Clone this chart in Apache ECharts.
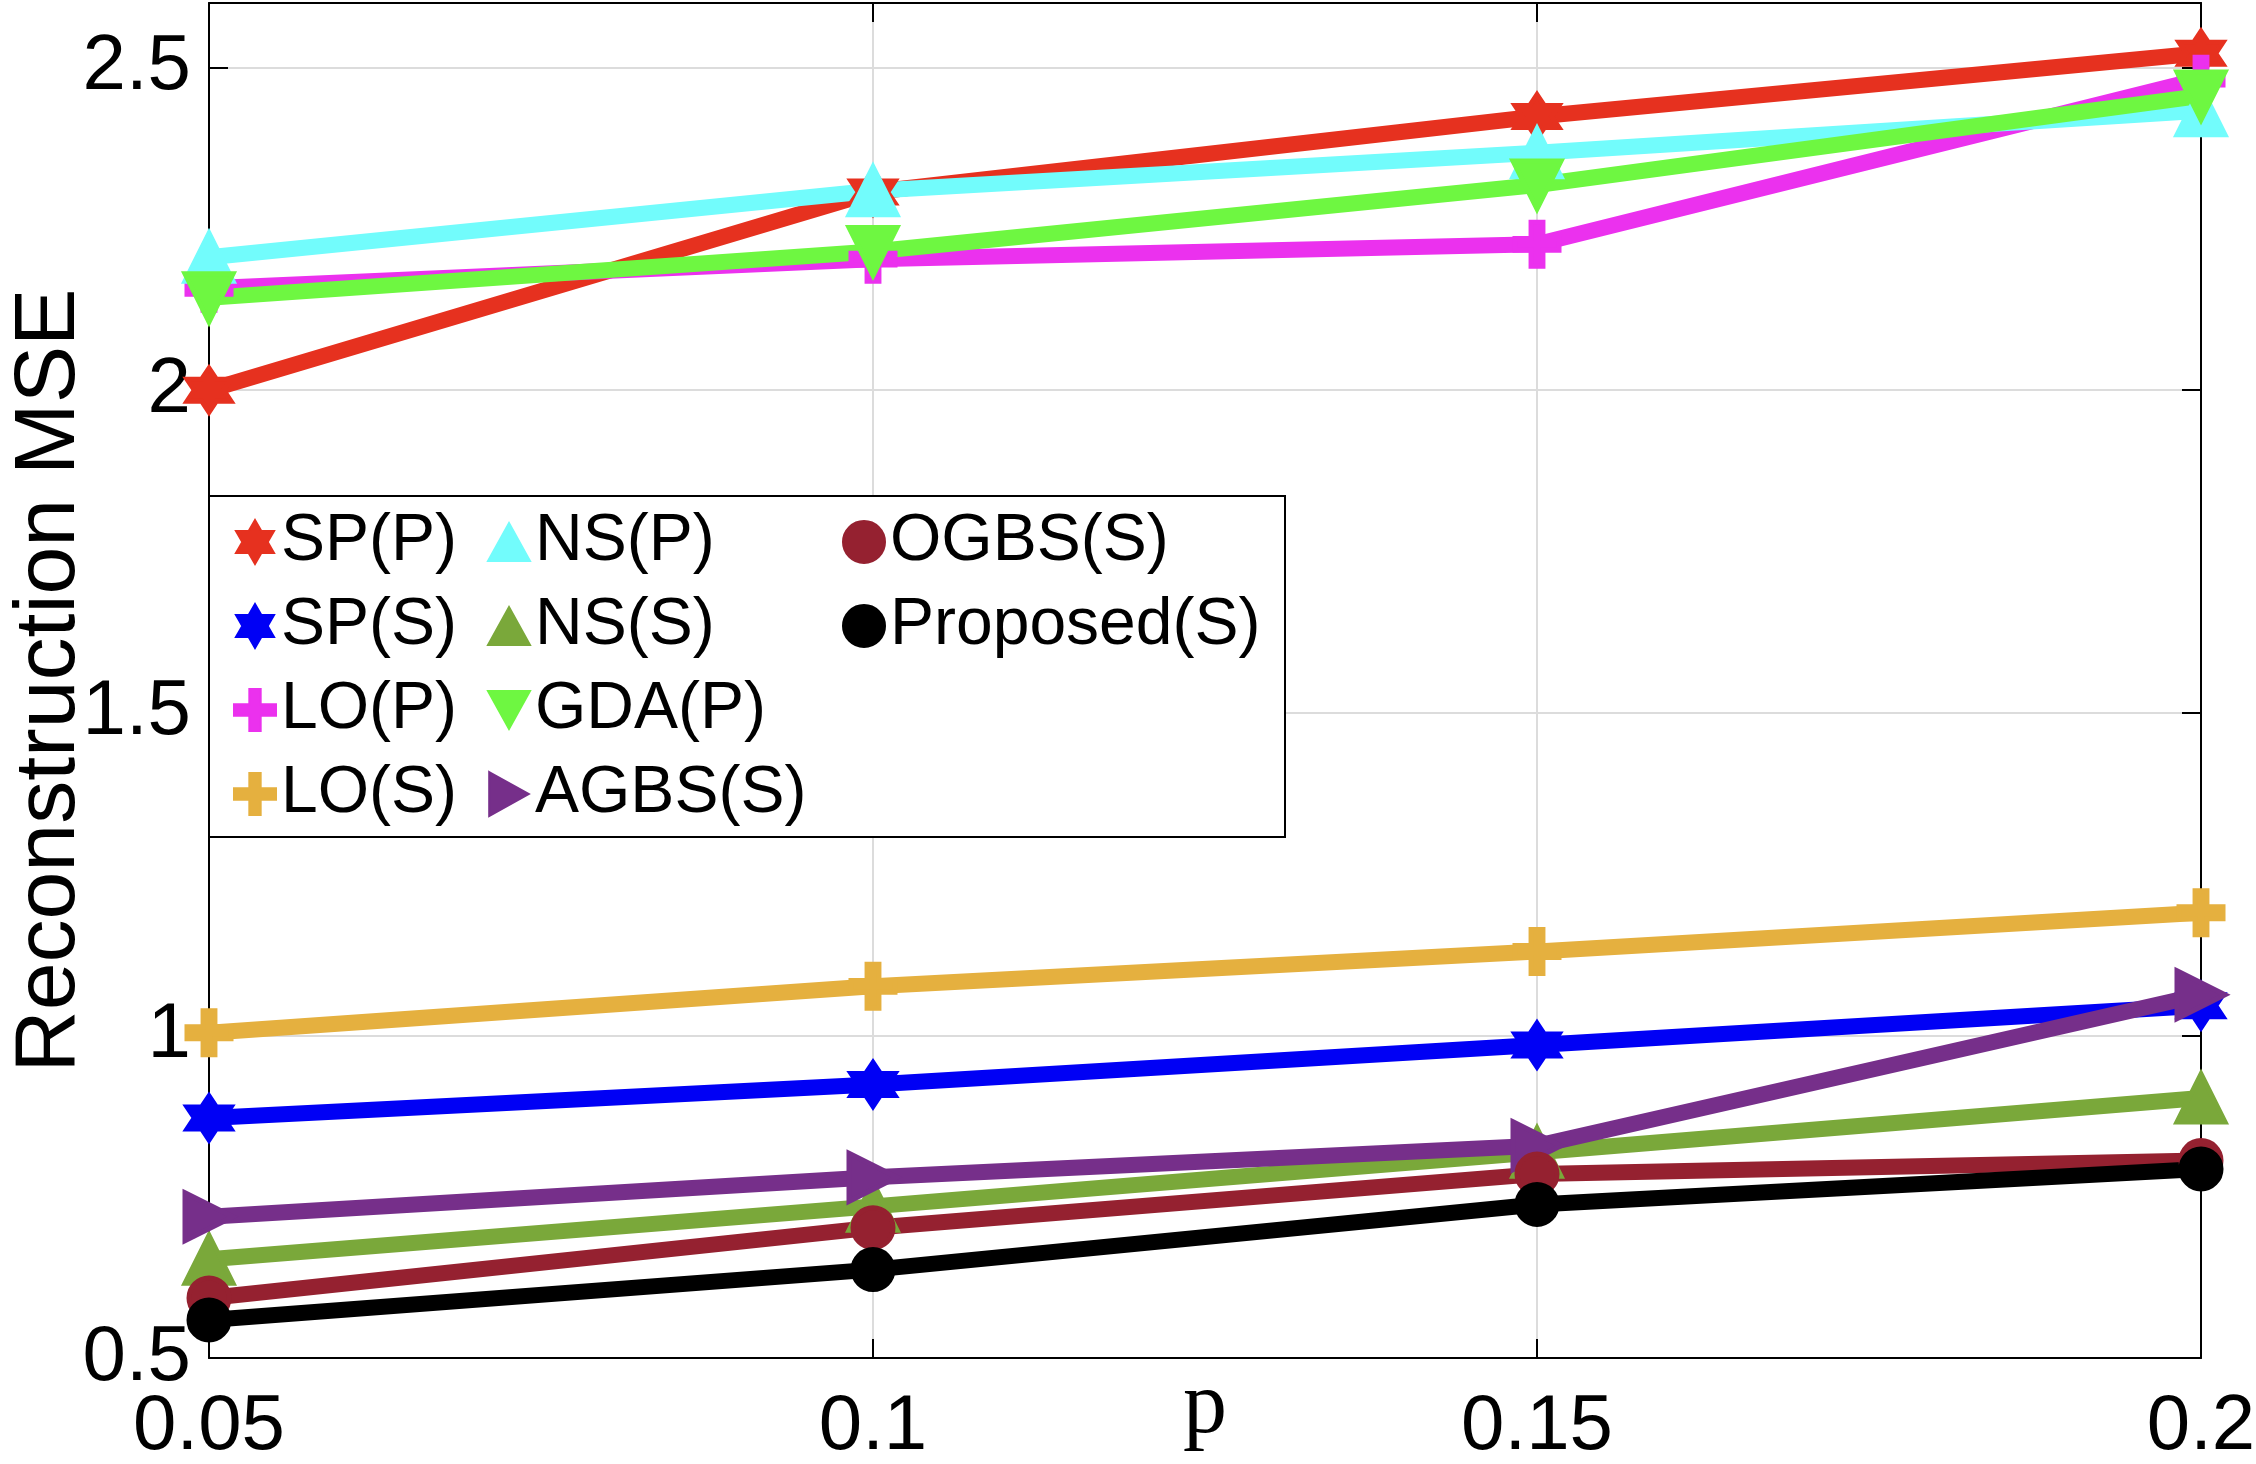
<!DOCTYPE html>
<html>
<head>
<meta charset="utf-8">
<title>Reconstruction MSE vs p</title>
<script src="https://cdn.jsdelivr.net/npm/echarts@6/dist/echarts.min.js"></script>
<style>
  html, body { margin: 0; padding: 0; background: #fff; }
  #main { width: 2256px; height: 1464px; }
</style>
</head>
<body>
<div id="main"></div>
<script>
// x轴: p
var pValues = [0.05, 0.1, 0.15, 0.2];
var xTicks = [0.05, 0.1, 0.15, 0.2];
var yTicks = [0.5, 1, 1.5, 2, 2.5];
var yMax = 2.6;

// 各方法的重建误差
var spP = [2.0, 2.307, 2.424, 2.522];
var spS = [0.872, 0.924, 0.985, 1.046];
var loP = [2.158, 2.203, 2.226, 2.482];
var loS = [1.004, 1.076, 1.130, 1.190];
var nsP = [2.206, 2.309, 2.368, 2.433];
var nsS = [0.653, 0.735, 0.819, 0.903];
var gdaP = [2.143, 2.215, 2.318, 2.456];
var agbsS = [0.719, 0.780, 0.829, 1.063];
var ogbsS = [0.593, 0.702, 0.785, 0.806];
var proposedS = [0.559, 0.637, 0.738, 0.793];

var names = ['SP(P)', 'SP(S)', 'LO(P)', 'LO(S)', 'NS(P)', 'NS(S)', 'GDA(P)', 'AGBS(S)', 'OGBS(S)', 'Proposed(S)'];
var values = [spP, spS, loP, loS, nsP, nsS, gdaP, agbsS, ogbsS, proposedS];
var colors = ['#e6311f', '#0000f5', '#eb31ee', '#e5b03f', '#72fcfc', '#7aa83a', '#6ef741', '#762f8a', '#952130', '#000000'];

// 标记形状
var hexagram = 'path://M0,-10L2.887,-5L8.66,-5L5.774,0L8.66,5L2.887,5L0,10L-2.887,5L-8.66,5L-5.774,0L-8.66,-5L-2.887,-5Z';
var plus = 'path://M-2.7,-10H2.7V-2.7H10V2.7H2.7V10H-2.7V2.7H-10V-2.7H-2.7Z';
var triUp = 'path://M0,-10L10,8L-10,8Z';
var triDown = 'path://M-10,-8L10,-8L0,10Z';
var triRight = 'path://M-8,-10L10,0L-8,10Z';
var symbols = [hexagram, hexagram, plus, plus, triUp, triUp, triDown, triRight, 'circle', 'circle'];
var sizes = [44, 44, 44, 44, 48, 48, 48, 48, 40, 40];

var FONT = '"Liberation Sans", Arial, Helvetica, sans-serif';

function pairs(arr) {
    var out = [];
    for (var i = 0; i < pValues.length; i++) {
        out.push([pValues[i], arr[i]]);
    }
    return out;
}

function buildSeries() {
    var sers = [];
    for (var i = 0; i < names.length; i++) {
        sers.push({
            name: names[i],
            type: 'line',
            data: pairs(values[i]),
            symbol: symbols[i],
            symbolSize: sizes[i],
            showAllSymbol: true,
            lineStyle: { color: colors[i], width: 16 },
            itemStyle: { color: colors[i], borderColor: colors[i], borderWidth: 5 },
            emphasis: { disabled: true },
            animation: false,
            z: 2
        });
    }
    return sers;
}

// 图例分三列
function legendCol(idx, left) {
    var data = [];
    for (var k = 0; k < idx.length; k++) {
        data.push({ name: names[idx[k]], icon: symbols[idx[k]] });
    }
    return {
        data: data,
        orient: 'vertical',
        left: left,
        top: 509,
        itemWidth: 42,
        itemHeight: 44,
        itemGap: 18,
        padding: 0,
        selectedMode: false,
        textStyle: { fontFamily: FONT, fontSize: 66, color: '#000', lineHeight: 66 },
        z: 5
    };
}

var myChart = echarts.init(document.getElementById('main'));
var option = {
    backgroundColor: '#fff',
    animation: false,
    grid: { left: 209, right: 55, top: 3, bottom: 106, outerBoundsMode: 'none', containLabel: false },
    legend: [
        legendCol([0, 1, 2, 3], 233),
        legendCol([4, 5, 6, 7], 487),
        legendCol([8, 9], 842)
    ],
    graphic: [{
        type: 'rect',
        shape: { x: 209, y: 496, width: 1076, height: 341 },
        style: { fill: '#fff', stroke: '#000', lineWidth: 2 },
        z: 3
    }],
    xAxis: [{
        type: 'value',
        min: xTicks[0],
        max: xTicks[xTicks.length - 1],
        interval: 0.05,
        name: 'p',
        nameLocation: 'middle',
        nameGap: 7,
        nameMoveOverlap: false,
        nameTextStyle: { fontFamily: '"Liberation Serif", "Times New Roman", serif', fontSize: 88, color: '#000' },
        axisLine: { lineStyle: { color: '#000', width: 2 } },
        axisTick: { inside: true, length: 19, lineStyle: { color: '#000', width: 2 } },
        axisLabel: { fontFamily: FONT, fontSize: 78, color: '#000', margin: 30 },
        splitLine: { show: true, lineStyle: { color: '#dcdcdc', width: 2 } }
    }, {
        type: 'value',
        position: 'top',
        min: xTicks[0],
        max: xTicks[xTicks.length - 1],
        interval: 0.05,
        axisLine: { lineStyle: { color: '#000', width: 2 } },
        axisTick: { inside: true, length: 19, lineStyle: { color: '#000', width: 2 } },
        axisLabel: { show: false },
        splitLine: { show: false }
    }],
    yAxis: [{
        type: 'value',
        min: yTicks[0],
        max: yMax,
        interval: 0.5,
        name: 'Reconstruction MSE',
        nameLocation: 'middle',
        nameGap: 116,
        nameMoveOverlap: false,
        nameTextStyle: { fontFamily: FONT, fontSize: 86, color: '#000' },
        axisLine: { show: true, lineStyle: { color: '#000', width: 2 } },
        axisTick: { show: true, inside: true, length: 19, lineStyle: { color: '#000', width: 2 } },
        axisLabel: { fontFamily: FONT, fontSize: 78, color: '#000', margin: 18, showMaxLabel: false },
        splitLine: { show: true, lineStyle: { color: '#dcdcdc', width: 2 } }
    }, {
        type: 'value',
        position: 'right',
        min: yTicks[0],
        max: yMax,
        interval: 0.5,
        axisLine: { show: true, lineStyle: { color: '#000', width: 2 } },
        axisTick: { show: true, inside: true, length: 19, lineStyle: { color: '#000', width: 2 } },
        axisLabel: { show: false },
        splitLine: { show: false }
    }],
    series: buildSeries()
};
myChart.setOption(option);
window.onresize = myChart.resize;
</script>
</body>
</html>
